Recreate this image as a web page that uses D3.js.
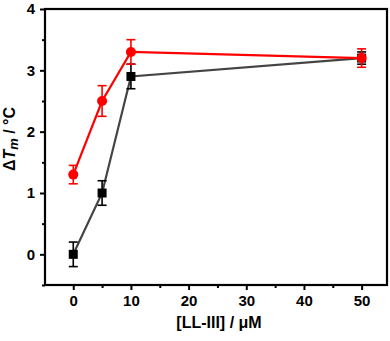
<!DOCTYPE html>
<html>
<head>
<meta charset="utf-8">
<script src="https://cdn.jsdelivr.net/npm/d3@7"></script>
<style>
  body { margin: 0; background: #fff; }
  svg text { font-family: Arial, "Liberation Sans", sans-serif; font-weight: bold; }
</style>
</head>
<body>
<svg></svg>
<script>
// DATA
let concentrations = [0, 5, 10, 50];
let redValues = [1.3, 2.5, 3.3, 3.2];
let redErrors = [0.15, 0.25, 0.2, 0.15];
let blackValues = [0, 1.0, 2.9, 3.2];
let blackErrors = [0.2, 0.2, 0.2, 0.1];
let xTickValues = [0, 10, 20, 30, 40, 50];
let yTickValues = [0, 1, 2, 3, 4];

// PAGE SETUP
let margin = {top: 9, left: 45, right: 3, bottom: 56};
let width = 390 - margin.left - margin.right;
let height = 341 - margin.top - margin.bottom;

let svg = d3.select("svg")
  .attr("width", 390)
  .attr("height", 341)
  .append("g")
  .attr("transform", `translate(${margin.left},${margin.top})`);

let x = d3.scaleLinear().domain([-4.9, 54.4]).range([0, width]);
let y = d3.scaleLinear().domain([-0.5, 4]).range([height, 0]);

// minor ticks
let xMinor = d3.range(-5, 55, 5).filter(v => v > -4.9 && v % 10 !== 0);
let yMinor = d3.range(-0.5, 4, 1);

svg.append("g")
  .attr("transform", `translate(0,${height})`)
  .call(d3.axisBottom(x).tickValues(xTickValues).tickFormat(d3.format("d")).tickSize(5).tickPadding(5));
svg.append("g")
  .attr("transform", `translate(0,${height})`)
  .call(d3.axisBottom(x).tickValues(xMinor).tickFormat("").tickSize(3));

svg.append("g")
  .call(d3.axisLeft(y).tickValues(yTickValues).tickFormat(d3.format("d")).tickSize(5).tickPadding(5));
svg.append("g")
  .call(d3.axisLeft(y).tickValues(yMinor).tickFormat("").tickSize(3));

svg.selectAll(".domain").remove();
svg.selectAll(".tick line").attr("stroke", "#000").attr("stroke-width", 2);
svg.selectAll(".tick text").attr("font-size", 15).attr("fill", "#000");

// frame
svg.append("rect")
  .attr("x", 0).attr("y", 0)
  .attr("width", width).attr("height", height)
  .attr("fill", "none")
  .attr("stroke", "#000")
  .attr("stroke-width", 2.2);

// series
function drawSeries(values, errors, color, lineColor, shape){
  let pts = concentrations.map((c, i) => ({x: c, y: values[i], e: errors[i]}));
  svg.append("path")
    .datum(pts)
    .attr("fill", "none")
    .attr("stroke", lineColor)
    .attr("stroke-width", 2.2)
    .attr("d", d3.line().x(d => x(d.x)).y(d => y(d.y)));

  let eb = svg.append("g").attr("stroke", color).attr("stroke-width", 1.6);
  pts.forEach(function(d){
    eb.append("line").attr("x1", x(d.x)).attr("x2", x(d.x)).attr("y1", y(d.y - d.e)).attr("y2", y(d.y + d.e));
    eb.append("line").attr("x1", x(d.x) - 4.5).attr("x2", x(d.x) + 4.5).attr("y1", y(d.y - d.e)).attr("y2", y(d.y - d.e));
    eb.append("line").attr("x1", x(d.x) - 4.5).attr("x2", x(d.x) + 4.5).attr("y1", y(d.y + d.e)).attr("y2", y(d.y + d.e));
  });

  if (shape === "circle"){
    svg.selectAll(null).data(pts).enter().append("circle")
      .attr("cx", d => x(d.x)).attr("cy", d => y(d.y))
      .attr("r", 5).attr("fill", color);
  } else {
    svg.selectAll(null).data(pts).enter().append("rect")
      .attr("x", d => x(d.x) - 4.5).attr("y", d => y(d.y) - 4.5)
      .attr("width", 9).attr("height", 9).attr("fill", color);
  }
}

drawSeries(blackValues, blackErrors, "#000", "#444", "square");
drawSeries(redValues, redErrors, "#ff0000", "#ff0000", "circle");

// axis labels
svg.append("text")
  .attr("x", width / 2 + 3)
  .attr("y", height + 43)
  .attr("text-anchor", "middle")
  .attr("font-size", 16)
  .text("[LL-III] / μM");

let yl = svg.append("text")
  .attr("transform", `translate(${-30},${height / 2 - 8}) rotate(-90)`)
  .attr("text-anchor", "middle")
  .attr("font-size", 16);
yl.append("tspan").text("Δ");
yl.append("tspan").attr("font-style", "italic").text("T");
yl.append("tspan").attr("font-style", "italic").attr("font-size", 13).attr("dy", 3).text("m");
yl.append("tspan").attr("dy", -3).text(" / °C");
</script>
</body>
</html>
